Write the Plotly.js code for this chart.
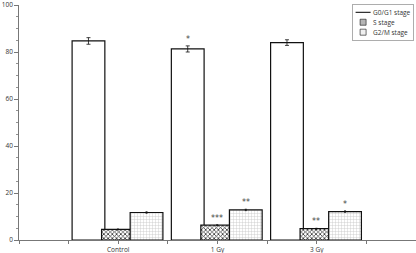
<!DOCTYPE html>
<html><head><meta charset="utf-8">
<script src="https://cdn.plot.ly/plotly-3.0.1.min.js"></script>
<style>html,body{margin:0;padding:0;background:#fff}#c{width:416px;height:253px}</style>
</head><body><div id="c"></div>
<script>
const categories = ['Control', '1 Gy', '3 Gy'];
const g0g1 = [84.7, 81.3, 84.0];
const g0g1Err = [1.4, 1.3, 1.2];
const sPhase = [4.5, 6.3, 4.8];
const sErr = [0.2, 0.2, 0.2];
const g2m = [11.7, 12.8, 12.1];
const g2mErr = [0.3, 0.3, 0.3];
const sigG0 = ['', '*', ''];
const sigS = ['', '***', '**'];
const sigG2 = ['', '**', '*'];
const seriesNames = ['G0/G1 stage', 'S stage', 'G2/M stage'];

const xs = categories.map((c, i) => i);
const W = 0.33;
const offs = [-0.465, -0.168, 0.12];
const line = {color: '#111', width: 1.2};
const eb = (arr, w) => ({type: 'data', array: arr, visible: true, color: '#111', thickness: 0.8, width: w});

const traces = [
  {type: 'bar', x: xs, y: g0g1, width: W, offset: offs[0], name: seriesNames[0], showlegend: false,
   marker: {color: '#fff', line: line}, error_y: eb(g0g1Err, 2)},
  {type: 'bar', x: xs, y: sPhase, width: W, offset: offs[1], name: seriesNames[1], legendrank: 2,
   marker: {color: '#fff', line: line, pattern: {shape: 'x', fgcolor: '#333', bgcolor: '#fff', size: 3, solidity: 0.45}},
   error_y: eb(sErr, 1)},
  {type: 'bar', x: xs, y: g2m, width: W, offset: offs[2], name: seriesNames[2], legendrank: 3,
   marker: {color: '#fff', line: line, pattern: {shape: '+', fgcolor: '#c4c4c4', bgcolor: '#fff', size: 3, solidity: 0.25}},
   error_y: eb(g2mErr, 1)},
  {type: 'scatter', mode: 'lines', x: [null], y: [null], name: seriesNames[0], line: {color: '#333', width: 2.4}, legendrank: 1}
];

const annotations = [];
[[g0g1, g0g1Err, sigG0, 0], [sPhase, sErr, sigS, 1], [g2m, g2mErr, sigG2, 2]].forEach(([v, e, s, k]) => {
  xs.forEach((x, i) => {
    if (s[i]) annotations.push({x: x + offs[k] + W / 2, y: v[i] + e[i], text: s[i], showarrow: false,
      xanchor: 'center', yanchor: 'bottom', yshift: 0, font: {family: 'DejaVu Sans', size: 8, color: '#444'}});
  });
});

const tv = [], tt = [];
for (let v = -1; v <= 3.001; v += 0.5) { tv.push(v); const idx = xs.indexOf(v); tt.push(idx >= 0 ? categories[idx] : ''); }

const layout = {
  width: 416, height: 253,
  margin: {l: 19, r: 0, t: 5, b: 13},
  paper_bgcolor: '#fff', plot_bgcolor: '#fff',
  barmode: 'overlay',
  font: {family: 'Open Sans', size: 6.5, color: '#333'},
  xaxis: {range: [-1, 3], tickvals: tv, ticktext: tt, ticks: 'outside', ticklen: 3, tickcolor: '#555', tickwidth: 0.8,
    showline: true, linecolor: '#555', linewidth: 0.8, showgrid: false, zeroline: false, fixedrange: true, ticklabeloverflow: 'allow'},
  yaxis: {range: [0, 100], dtick: 20, ticks: 'outside', ticklen: 4, tickcolor: '#555', tickwidth: 0.8, ticklabeloverflow: 'allow',
    minor: {dtick: 5, ticks: 'outside', ticklen: 2, tickcolor: '#777', showgrid: false},
    showline: true, linecolor: '#555', linewidth: 0.8, showgrid: false, zeroline: false, fixedrange: true},
  legend: {x: 0.99, y: 0.99, xanchor: 'right', yanchor: 'top', bordercolor: '#999', borderwidth: 1.6,
    bgcolor: '#fff', font: {family: 'Open Sans', size: 13, color: '#333'}, tracegroupgap: 0, itemwidth: 30},
  annotations: annotations,
  showlegend: true
};
Plotly.newPlot('c', traces, layout, {displayModeBar: false, staticPlot: true}).then(() => {
  const lg = document.querySelector('.legend');
  if (!lg) return;
  const bg = lg.querySelector('.bg');
  const w = bg ? parseFloat(bg.getAttribute('width')) : lg.getBBox().width;
  const s = 0.5;
  lg.setAttribute('transform', 'translate(' + (413 - w * s) + ',4) scale(' + s + ')');
});
</script></body></html>
